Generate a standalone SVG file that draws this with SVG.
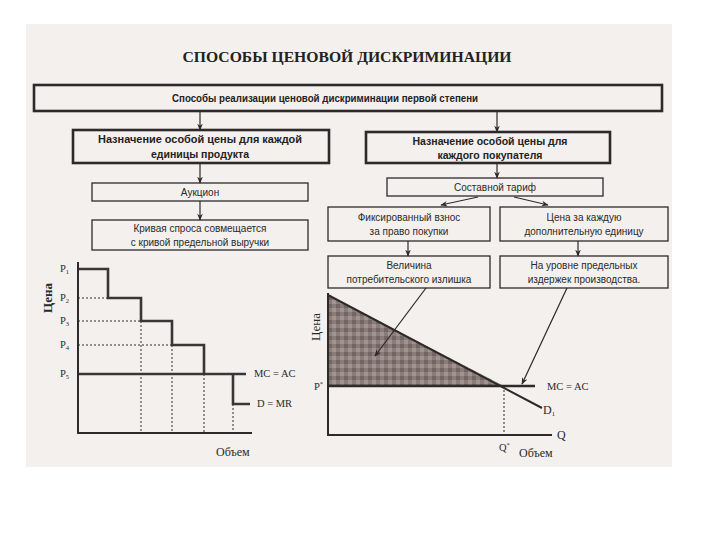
<svg xmlns="http://www.w3.org/2000/svg" width="720" height="540" viewBox="0 0 720 540">
<defs>
<style>
.page{fill:#f4f0ed}
.thick{fill:#f4f0ed;stroke:#2e2a2a;stroke-width:2.6}
.thin{fill:#f4f0ed;stroke:#2e2a2a;stroke-width:1.3}
.bt{font-family:"Liberation Sans",Arial,sans-serif;font-weight:bold;font-size:10.5px;fill:#222;text-anchor:middle}
.nt{font-family:"Liberation Sans",Arial,sans-serif;font-size:10px;fill:#2a2a2a;text-anchor:middle}
.sr{font-family:"Liberation Serif","Times New Roman",serif;font-size:10.5px;fill:#2a2a2a}
.lbl{font-family:"Liberation Serif","Times New Roman",serif;font-size:13px;fill:#2a2a2a;text-anchor:middle}
.sub{font-size:6.5px}
.conn{stroke:#2e2a2a;stroke-width:1.2;fill:none}
.ax{stroke:#2e2a2a;stroke-width:2;fill:none}
.stair{stroke:#3a3636;stroke-width:2.6;fill:none}
.dot{stroke:#2e2a2a;stroke-width:1;stroke-dasharray:2,2;fill:none}
</style>
<marker id="ah" viewBox="0 0 10 10" refX="9" refY="5" markerWidth="7" markerHeight="7" orient="auto" markerUnits="userSpaceOnUse">
<path d="M0,1 L10,5 L0,9 L3,5 Z" fill="#2e2a2a"/>
</marker>
<pattern id="chk" width="8" height="8" patternUnits="userSpaceOnUse">
<rect width="8" height="8" fill="#8a7c79"/>
<rect width="4" height="4" fill="#726664"/>
<rect x="4" y="4" width="4" height="4" fill="#a09390"/>
</pattern>
</defs>
<rect width="720" height="540" fill="#ffffff"/>
<rect class="page" x="26" y="24" width="646" height="443"/>

<text x="347" y="62" font-family="Liberation Serif,'Times New Roman',serif" font-weight="bold" font-size="15" fill="#222" text-anchor="middle" textLength="329" lengthAdjust="spacingAndGlyphs">СПОСОБЫ ЦЕНОВОЙ ДИСКРИМИНАЦИИ</text>

<g id="n-top">
<rect class="thick" x="34" y="85" width="628" height="26"/>
<text class="bt" x="325" y="102" textLength="306" lengthAdjust="spacingAndGlyphs">Способы реализации ценовой дискриминации первой степени</text>
</g>
<g id="n-unit">
<rect class="thick" x="73" y="130" width="256" height="33"/>
<text class="bt" x="200" y="143" textLength="204" lengthAdjust="spacingAndGlyphs">Назначение особой цены для каждой</text>
<text class="bt" x="200" y="158">единицы продукта</text>
</g>
<g id="n-auction">
<rect class="thin" x="92" y="183" width="216" height="18"/>
<text class="nt" x="200" y="196">Аукцион</text>
</g>
<g id="n-curve">
<rect class="thin" x="92" y="220" width="216" height="30"/>
<text class="nt" x="200" y="232">Кривая спроса совмещается</text>
<text class="nt" x="200" y="246">с кривой предельной выручки</text>
</g>
<g id="n-buyer">
<rect class="thick" x="366" y="132" width="244" height="31"/>
<text class="bt" x="490" y="145">Назначение особой цены для</text>
<text class="bt" x="490" y="159">каждого покупателя</text>
</g>
<g id="n-tariff">
<rect class="thin" x="387" y="178" width="216" height="18"/>
<text class="nt" x="495" y="191">Составной тариф</text>
</g>
<g id="n-fee">
<rect class="thin" x="328" y="207" width="162" height="34"/>
<text class="nt" x="409" y="221">Фиксированный взнос</text>
<text class="nt" x="409" y="235">за право покупки</text>
</g>
<g id="n-price">
<rect class="thin" x="500" y="207" width="168" height="34"/>
<text class="nt" x="584" y="221">Цена за каждую</text>
<text class="nt" x="584" y="235">дополнительную единицу</text>
</g>
<g id="n-surplus">
<rect class="thin" x="328" y="256" width="162" height="32"/>
<text class="nt" x="409" y="269">Величина</text>
<text class="nt" x="409" y="283">потребительского излишка</text>
</g>
<g id="n-mc">
<rect class="thin" x="500" y="256" width="168" height="32"/>
<text class="nt" x="584" y="269">На уровне предельных</text>
<text class="nt" x="584" y="283">издержек производства.</text>
</g>

<!-- left graph -->
<g id="graph-left">
<text class="lbl" font-weight="bold" transform="translate(52,298) rotate(-90)">Цена</text>
<polyline class="dot" points="78,298 108,298"/>
<polyline class="dot" points="78,321 141,321"/>
<polyline class="dot" points="78,345 172,345"/>
<polyline class="dot" points="141,321 141,433"/>
<polyline class="dot" points="172,345 172,433"/>
<polyline class="dot" points="204,374 204,433"/>
<polyline class="dot" points="233,404 233,433"/>
<polyline class="stair" points="78,269 108,269 108,298 141,298 141,321 172,321 172,345 204,345 204,374"/>
<line class="stair" x1="78" y1="374" x2="246" y2="374"/>
<polyline class="stair" points="233,374 233,404 250,404"/>
<polyline class="ax" points="78,262 78,433 252,433"/>
<text class="sr" x="60" y="272">P<tspan class="sub" dy="2">1</tspan></text>
<text class="sr" x="60" y="301">P<tspan class="sub" dy="2">2</tspan></text>
<text class="sr" x="60" y="324">P<tspan class="sub" dy="2">3</tspan></text>
<text class="sr" x="60" y="348">P<tspan class="sub" dy="2">4</tspan></text>
<text class="sr" x="60" y="377">P<tspan class="sub" dy="2">5</tspan></text>
<text class="sr" x="254" y="377">MC = AC</text>
<text class="sr" x="257" y="407">D = MR</text>
<text class="sr" x="216" y="456" style="font-size:12px">Объем</text>
</g>

<!-- right graph -->
<g id="graph-right">
<text class="lbl" transform="translate(320,327) rotate(-90)">Цена</text>
<polygon points="328,295 328,386 504,386" fill="url(#chk)"/>
<line x1="328" y1="295" x2="542" y2="408" stroke="#2e2a2a" stroke-width="2"/>
<line x1="328" y1="386" x2="535" y2="386" stroke="#2e2a2a" stroke-width="2.4"/>
<polyline class="dot" points="504,386 504,435"/>
<polyline class="ax" points="328,293 328,435 552,435"/>
<text class="sr" x="314" y="390">P<tspan class="sub" dy="-4">*</tspan></text>
<text class="sr" x="547" y="390">MC = AC</text>
<text class="sr" x="543" y="414" style="font-size:12px">D<tspan class="sub" dy="2">1</tspan></text>
<text class="sr" x="557" y="439" style="font-size:12px">Q</text>
<text class="sr" x="499" y="451">Q<tspan class="sub" dy="-4">*</tspan></text>
<text class="sr" x="519" y="457" style="font-size:12px">Объем</text>
</g>

<g id="connectors">
<line class="conn" x1="200" y1="111" x2="200" y2="130" marker-end="url(#ah)"/>
<line class="conn" x1="200" y1="163" x2="200" y2="183" marker-end="url(#ah)"/>
<line class="conn" x1="200" y1="201" x2="200" y2="220" marker-end="url(#ah)"/>
<line class="conn" x1="497" y1="111" x2="497" y2="132" marker-end="url(#ah)"/>
<line class="conn" x1="497" y1="163" x2="497" y2="178" marker-end="url(#ah)"/>
<line class="conn" x1="478" y1="197" x2="441" y2="205" marker-end="url(#ah)"/>
<line class="conn" x1="514" y1="197" x2="548" y2="205" marker-end="url(#ah)"/>
<line class="conn" x1="408" y1="241" x2="408" y2="256" marker-end="url(#ah)"/>
<line class="conn" x1="578" y1="241" x2="578" y2="256" marker-end="url(#ah)"/>
<line class="conn" x1="426" y1="288" x2="375" y2="356" marker-end="url(#ah)"/>
<line class="conn" x1="567" y1="288" x2="522" y2="384" marker-end="url(#ah)"/>
</g>
</svg>
